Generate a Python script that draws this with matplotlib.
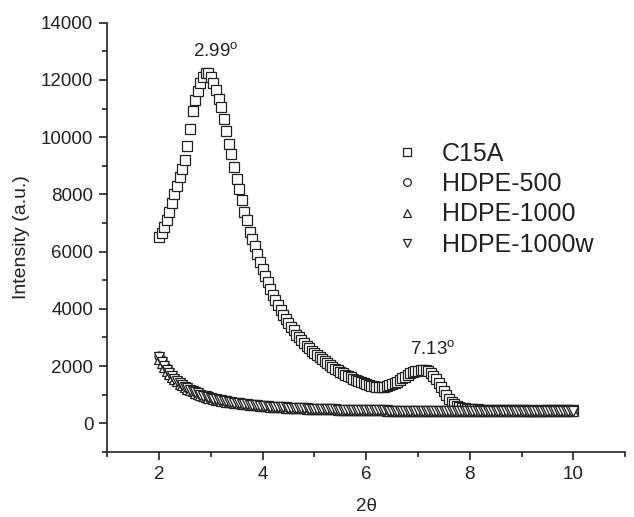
import numpy as np
import matplotlib
matplotlib.use('Agg')
import matplotlib.pyplot as plt
from matplotlib.ticker import MultipleLocator

plt.rcParams['font.family'] = ['Liberation Sans', 'DejaVu Sans']

# 2-theta grid (deg), one reading every 0.05
two_theta = np.arange(0, 161) * 0.05 + 2.0

c15a = [6500, 6650, 6850, 7100, 7400, 7700, 8000, 8300, 8600, 8900,
        9200, 9700, 10300, 10900, 11300, 11600, 11900, 12100, 12250, 12250,
        12100, 11900, 11650, 11350, 11050, 10650, 10200, 9750, 9400, 8950,
        8550, 8200, 7800, 7400, 7100, 6700, 6450, 6200, 5900, 5650,
        5400, 5150, 4950, 4700, 4500, 4300, 4150, 3950, 3800, 3650,
        3500, 3350, 3250, 3100, 3000, 2900, 2800, 2700, 2620, 2530,
        2450, 2380, 2300, 2230, 2160, 2100, 2030, 1970, 1910, 1860,
        1800, 1750, 1700, 1650, 1600, 1560, 1520, 1480, 1440, 1400,
        1370, 1340, 1310, 1290, 1270, 1260, 1260, 1270, 1290, 1320,
        1360, 1400, 1450, 1510, 1570, 1630, 1690, 1740, 1780, 1810,
        1830, 1850, 1860, 1850, 1820, 1760, 1660, 1530, 1390, 1250,
        1110, 980, 860, 760, 680, 620, 580, 550, 530, 510,
        500, 495, 490, 485, 480, 480, 475, 470, 470, 465,
        470, 460, 465, 460, 455, 460, 455, 450, 455, 450,
        450, 455, 450, 445, 450, 445, 450, 450, 445, 450,
        455, 450, 455, 460, 455, 460, 465, 460, 465, 470,
        470]

hdpe_500 = [2350, 2200, 2050, 1920, 1800, 1690, 1590, 1500, 1420, 1350,
            1290, 1230, 1180, 1130, 1090, 1050, 1010, 975, 945, 915,
            890, 865, 845, 825, 805, 790, 775, 760, 745, 730,
            715, 700, 690, 678, 666, 655, 645, 635, 625, 616,
            608, 600, 593, 586, 580, 574, 568, 562, 557, 552,
            547, 542, 537, 533, 529, 525, 521, 517, 513, 510,
            507, 503, 500, 497, 494, 491, 488, 486, 483, 481,
            478, 476, 474, 472, 470, 468, 466, 464, 462, 460,
            458, 457, 455, 454, 452, 451, 449, 448, 447, 446,
            444, 443, 442, 441, 440, 439, 438, 437, 436, 435,
            434, 433, 432, 431, 430, 430, 429, 428, 428, 427,
            426, 426, 425, 425, 424, 424, 423, 423, 422, 422,
            421, 421, 421, 420, 420, 420, 420, 419, 419, 419,
            419, 419, 419, 419, 420, 420, 420, 420, 421, 421,
            421, 422, 422, 423, 423, 424, 424, 425, 426, 427,
            428, 429, 430, 431, 432, 433, 435, 436, 438, 440,
            445]

hdpe_1000 = [2250, 2100, 1960, 1840, 1730, 1630, 1540, 1460, 1385, 1320,
             1260, 1205, 1155, 1110, 1070, 1030, 995, 960, 930, 900,
             875, 852, 830, 810, 792, 776, 760, 745, 731, 718,
             705, 693, 682, 671, 660, 650, 640, 631, 622, 614,
             606, 598, 591, 584, 578, 572, 566, 560, 555, 550,
             545, 540, 536, 531, 527, 523, 519, 515, 512, 508,
             505, 502, 499, 496, 493, 490, 487, 484, 482, 480,
             477, 475, 473, 471, 469, 467, 465, 463, 461, 459,
             457, 456, 454, 452, 451, 449, 448, 447, 445, 444,
             443, 442, 440, 439, 438, 437, 436, 435, 434, 433,
             432, 431, 430, 430, 429, 428, 427, 427, 426, 425,
             425, 424, 424, 423, 423, 422, 422, 421, 421, 420,
             420, 420, 419, 419, 419, 418, 418, 418, 418, 418,
             418, 418, 418, 418, 418, 419, 419, 419, 420, 420,
             420, 421, 421, 422, 422, 423, 424, 424, 425, 426,
             427, 428, 429, 430, 431, 432, 434, 435, 437, 439,
             442]

hdpe_1000w = [2300, 2150, 2000, 1870, 1750, 1645, 1550, 1470, 1395, 1330,
              1270, 1215, 1165, 1120, 1078, 1040, 1003, 968, 937, 907,
              881, 857, 835, 815, 797, 780, 765, 750, 736, 722,
              709, 697, 685, 674, 663, 652, 642, 633, 624, 615,
              607, 599, 592, 585, 579, 573, 567, 561, 556, 551,
              546, 541, 536, 532, 528, 524, 520, 516, 512, 509,
              506, 502, 499, 496, 493, 490, 488, 485, 482, 480,
              478, 475, 473, 471, 469, 467, 465, 463, 461, 460,
              458, 456, 455, 453, 452, 450, 449, 447, 446, 445,
              444, 442, 441, 440, 439, 438, 437, 436, 435, 434,
              433, 432, 431, 430, 430, 429, 428, 427, 427, 426,
              425, 425, 424, 424, 423, 423, 422, 422, 421, 421,
              421, 420, 420, 420, 419, 419, 419, 419, 419, 419,
              419, 419, 419, 419, 419, 419, 420, 420, 420, 421,
              421, 421, 422, 422, 423, 423, 424, 425, 425, 426,
              427, 428, 429, 430, 431, 433, 434, 436, 437, 439,
              440]

series = [('C15A', c15a, 's'),
          ('HDPE-500', hdpe_500, 'o'),
          ('HDPE-1000', hdpe_1000, '^'),
          ('HDPE-1000w', hdpe_1000w, 'v')]

fig = plt.figure(figsize=(6.34, 5.17), dpi=100)
ax = fig.add_axes([0.169, 0.126, 0.817, 0.830])

for name, vals, mk in series:
    ax.plot(two_theta, vals, linestyle='none', marker=mk, markersize=6.5,
            markerfacecolor='white', markeredgecolor='#222222',
            markeredgewidth=0.9, label=name)

ax.set_xlim(1, 11)
ax.set_ylim(-1000, 14000)
ax.xaxis.set_major_locator(MultipleLocator(2))
ax.xaxis.set_minor_locator(MultipleLocator(1))
ax.yaxis.set_major_locator(MultipleLocator(2000))
ax.yaxis.set_minor_locator(MultipleLocator(1000))
ax.set_yticks(np.arange(0, 14001, 2000))
ax.set_xticks([2, 4, 6, 8, 10])

for s in ['top', 'right']:
    ax.spines[s].set_visible(False)
for s in ['left', 'bottom']:
    ax.spines[s].set_linewidth(1.2)
    ax.spines[s].set_color('#222222')
ax.tick_params(which='major', direction='out', length=6, width=1.2,
               labelsize=13.5, colors='#222222', pad=4)
ax.tick_params(which='minor', direction='out', length=3.5, width=1.2,
               colors='#222222')

ax.set_xlabel('2θ', fontsize=13.5, color='#222222', labelpad=11)
ax.set_ylabel('Intensity (a.u.)', fontsize=14, color='#222222', labelpad=8)

ax.text(3.1, 12650, '2.99$^{\\mathregular{o}}$', fontsize=13.5, ha='center',
        va='bottom', color='#222222')
ax.text(7.28, 2250, '7.13$^{\\mathregular{o}}$', fontsize=13.5, ha='center',
        va='bottom', color='#222222')

leg = ax.legend(loc='upper left', bbox_to_anchor=(0.606, 0.745),
                bbox_transform=fig.transFigure, frameon=False,
                fontsize=18, handletextpad=0.9, labelspacing=0.25,
                handlelength=1.0, markerscale=0.85, borderaxespad=0)
for t in leg.get_texts():
    t.set_color('#222222')

fig.savefig('out.png', dpi=100)
